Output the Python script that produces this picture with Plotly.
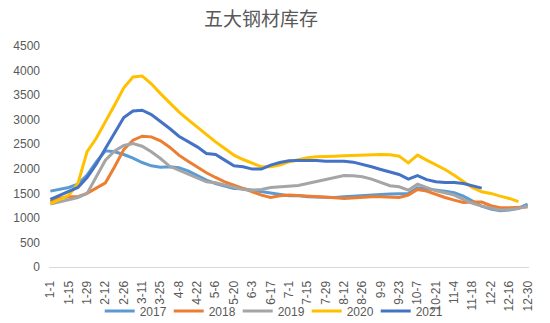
import plotly.graph_objects as go

weeks = ["1-1", "1-8", "1-15", "1-22", "1-29", "2-5", "2-12", "2-19", "2-26", "3-4",
         "3-11", "3-18", "3-25", "4-1", "4-8", "4-15", "4-22", "4-29", "5-6", "5-13",
         "5-20", "5-27", "6-3", "6-10", "6-17", "6-24", "7-1", "7-8", "7-15", "7-22",
         "7-29", "8-5", "8-12", "8-19", "8-26", "9-2", "9-9", "9-16", "9-23", "9-30",
         "10-7", "10-14", "10-21", "10-28", "11-4", "11-11", "11-18", "11-25", "12-2", "12-9",
         "12-16", "12-23", "12-30"]

tick_labels = ["1-1", "1-15", "1-29", "2-12", "2-26", "3-11", "3-25", "4-8", "4-22", "5-6",
               "5-20", "6-3", "6-17", "7-1", "7-15", "7-29", "8-12", "8-26", "9-9", "9-23",
               "10-7", "10-21", "11-4", "11-18", "12-2", "12-16", "12-30"]

y2017 = [1545, 1580, 1620, 1687, 1870, 2141, 2365, 2345, 2290, 2216,
         2128, 2060, 2033, 2040, 2020, 1958, 1870, 1769, 1701, 1647,
         1599, 1592, 1565, 1525, 1498, 1478, 1450, 1457, 1430, 1423,
         1416, 1416, 1430, 1443, 1464, 1464, 1477, 1484, 1484, 1498,
         1613, 1592, 1565, 1545, 1511, 1443, 1342, 1240, 1179, 1145,
         1159, 1193, 1281]

y2018 = [1330, 1400, 1430, 1430, 1500, 1600, 1714, 2040, 2392, 2582,
         2663, 2650, 2568, 2440, 2277, 2155, 2040, 1918, 1823, 1735,
         1667, 1599, 1531, 1464, 1417, 1450, 1464, 1450, 1443, 1430,
         1416, 1409, 1396, 1409, 1416, 1430, 1430, 1423, 1416, 1464,
         1579, 1545, 1477, 1416, 1362, 1315, 1321, 1321, 1247, 1206,
         1206, 1206, 1220]

y2019 = [1281, 1321, 1369, 1416, 1498, 1836, 2175, 2365, 2474, 2514,
         2460, 2345, 2209, 2050, 1972, 1891, 1803, 1735, 1715, 1667,
         1620, 1579, 1565, 1579, 1620, 1633, 1653, 1660, 1701, 1742,
         1789, 1836, 1864, 1857, 1836, 1789, 1721, 1654, 1633, 1565,
         1687, 1620, 1551, 1511, 1464, 1376, 1294, 1240, 1193, 1159,
         1172, 1193, 1240]

y2020 = [1290, 1370, 1460, 1700, 2350, 2620, 2950, 3300, 3650, 3870,
         3890, 3730, 3530, 3340, 3158, 3002, 2852, 2683, 2548, 2412,
         2277, 2189, 2108, 2040, 2040, 2074, 2142, 2185, 2223, 2243,
         2257, 2257, 2263, 2270, 2284, 2290, 2290, 2284, 2257, 2121,
         2277, 2175, 2087, 1986, 1870, 1735, 1613, 1532, 1498, 1443,
         1396, 1330, None]

y2021 = [1376, 1457, 1525, 1620, 1823, 2094, 2412, 2730, 3042, 3178,
         3192, 3104, 2968, 2820, 2663, 2548, 2446, 2311, 2290, 2176,
         2060, 2040, 1993, 1993, 2074, 2128, 2162, 2169, 2175, 2169,
         2155, 2162, 2155, 2135, 2094, 2040, 1986, 1938, 1884, 1789,
         1860, 1779, 1735, 1721, 1721, 1701, 1654, 1606, None, None,
         None, None, None]

series = [("2017", y2017, "#5B9BD5"), ("2018", y2018, "#ED7D31"),
          ("2019", y2019, "#A5A5A5"), ("2020", y2020, "#FFC000"),
          ("2021", y2021, "#4472C4")]

fig = go.Figure()
for name, vals, color in series:
    fig.add_trace(go.Scatter(x=weeks, y=vals, name=name, mode="lines",
                             line=dict(color=color, width=3), connectgaps=False))

font_family = "Liberation Sans, Arial, sans-serif"
fig.update_layout(
    template="none",
    width=550, height=323,
    margin=dict(l=49, r=21, t=46, b=56, autoexpand=False),
    paper_bgcolor="white", plot_bgcolor="white",
    title=dict(text="五大钢材库存", x=261 / 550, xref="container", xanchor="center",
               y=1 - 19 / 323, yref="container", yanchor="middle",
               font=dict(family="Noto Sans CJK SC", size=19, color="#595959")),
    font=dict(family=font_family, size=12, color="#595959"),
    showlegend=True,
    legend=dict(orientation="h", x=0.465, xanchor="center",
                y=(323 - 311) / 323, yref="container", yanchor="middle",
                font=dict(size=12, color="#595959"), bgcolor="rgba(0,0,0,0)",
                tracegroupgap=0, itemwidth=30, entrywidth=24, entrywidthmode="pixels"),
    xaxis=dict(type="category", categoryorder="array", categoryarray=weeks,
               range=[-0.15, 52.15], tickmode="array", tickvals=tick_labels,
               ticktext=tick_labels, tickangle=-90, showgrid=False, zeroline=False,
               showline=True, linecolor="#D9D9D9", linewidth=1, ticks="",
               ticklabelstandoff=8, automargin=False,
               tickfont=dict(size=12, color="#595959")),
    yaxis=dict(range=[0, 4500], tickvals=[0, 500, 1000, 1500, 2000, 2500, 3000, 3500, 4000, 4500],
               showgrid=False, zeroline=False, showline=False, ticks="", automargin=False,
               ticklabelstandoff=8, tickfont=dict(size=12, color="#595959")),
)

fig.write_html("out.html")
